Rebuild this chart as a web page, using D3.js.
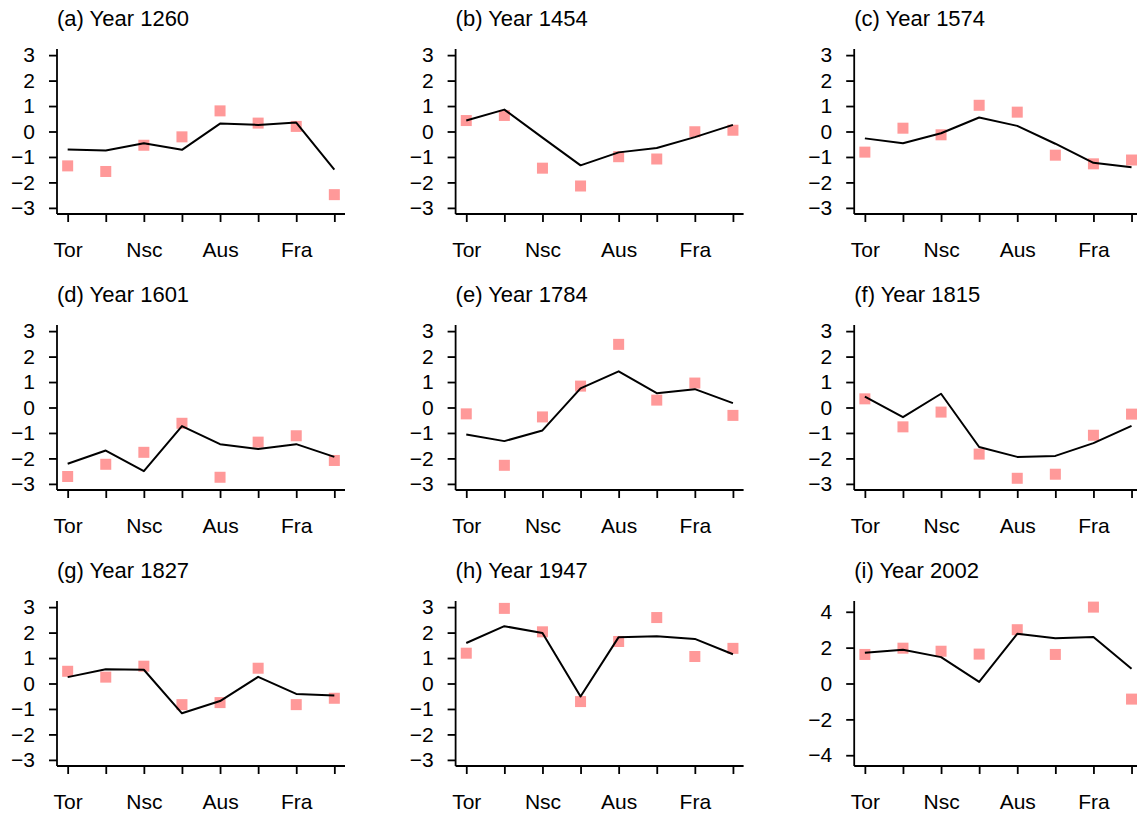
<!DOCTYPE html>
<html>
<head>
<meta charset="utf-8">
<script src="https://cdn.jsdelivr.net/npm/d3@7"></script>
<style>
    body { margin: 0; background: white; }
    svg { font-family: "Liberation Sans", Arial, sans-serif; }
</style>
</head>
<body>
<div id="chart"></div>
<script>

// Categories (only every other one gets a label on the axis)
const tickLabels = ["Tor", "", "Nsc", "", "Aus", "", "Fra", ""];

const titles = ["(a) Year 1260", "(b) Year 1454", "(c) Year 1574",
    "(d) Year 1601", "(e) Year 1784", "(f) Year 1815",
    "(g) Year 1827", "(h) Year 1947", "(i) Year 2002"];

// Black line, one array per panel
const lineA = [-0.71, -0.75, -0.46, -0.72, 0.31, 0.26, 0.35, -1.50];
const lineB = [0.43, 0.86, -0.24, -1.33, -0.82, -0.65, -0.22, 0.26];
const lineC = [-0.27, -0.46, -0.07, 0.55, 0.22, -0.48, -1.23, -1.40];
const lineD = [-2.21, -1.69, -2.50, -0.73, -1.44, -1.63, -1.44, -1.94];
const lineE = [-1.06, -1.32, -0.90, 0.75, 1.42, 0.56, 0.72, 0.17];
const lineF = [0.43, -0.38, 0.54, -1.55, -1.94, -1.90, -1.40, -0.72];
const lineG = [0.25, 0.56, 0.54, -1.17, -0.69, 0.26, -0.41, -0.47];
const lineH = [1.59, 2.25, 1.98, -0.51, 1.82, 1.86, 1.75, 1.15];
const lineI = [1.71, 1.88, 1.47, 0.09, 2.77, 2.53, 2.59, 0.82];

// Pink squares, one array per panel
const pointsA = [-1.35, -1.57, -0.54, -0.21, 0.81, 0.33, 0.20, -2.48];
const pointsB = [0.43, 0.63, -1.44, -2.14, -0.99, -1.08, -0.01, 0.05];
const pointsC = [-0.81, 0.13, -0.13, 1.03, 0.76, -0.93, -1.27, -1.12];
const pointsD = [-2.71, -2.23, -1.76, -0.62, -2.74, -1.36, -1.11, -2.08];
const pointsE = [-0.25, -2.27, -0.37, 0.84, 2.48, 0.29, 0.96, -0.31];
const pointsF = [0.34, -0.76, -0.18, -1.83, -2.78, -2.62, -1.09, -0.26];
const pointsG = [0.48, 0.25, 0.68, -0.83, -0.75, 0.60, -0.83, -0.58];
const pointsH = [1.19, 2.95, 2.03, -0.71, 1.65, 2.59, 1.06, 1.38];
const pointsI = [1.62, 1.97, 1.80, 1.64, 3.00, 1.62, 4.26, -0.87];

// y tick values
const ticksSmall = [-3, -2, -1, 0, 1, 2, 3];
const ticksLarge = [-4, -2, 0, 2, 4];

const lines = [lineA, lineB, lineC, lineD, lineE, lineF, lineG, lineH, lineI];
const points = [pointsA, pointsB, pointsC, pointsD, pointsE, pointsF, pointsG, pointsH, pointsI];
const yTicks = [ticksSmall, ticksSmall, ticksSmall, ticksSmall, ticksSmall,
    ticksSmall, ticksSmall, ticksSmall, ticksLarge];

// Layout
const totalWidth = 1137, totalHeight = 813;
const panelW = 288, panelH = 165;
const left0 = 57, top0 = 49, stepX = 398.6, stepY = 276;
const fontSize = 21;

const svg = d3.select("#chart")
    .append("svg")
    .attr("width", totalWidth)
    .attr("height", totalHeight);

for (let k = 0; k < 9; k++) {
    const col = k % 3, row = Math.floor(k / 3);
    const g = svg.append("g")
        .attr("transform", `translate(${left0 + col * stepX},${top0 + row * stepY})`);

    // Scales with R-like 4% padding
    const x = d3.scaleLinear()
        .domain([1 - 0.28, 8 + 0.28])
        .range([0, panelW]);

    const lim = Math.max(3, d3.max(points[k].concat(lines[k]), v => Math.abs(v)));
    const y = d3.scaleLinear()
        .domain([-lim * 1.08, lim * 1.08])
        .range([panelH, 0]);

    // Axes
    const xAxis = g.append("g")
        .attr("transform", `translate(0,${panelH})`)
        .call(d3.axisBottom(x)
            .tickValues(d3.range(1, 9))
            .tickFormat((d, i) => tickLabels[i])
            .tickSize(8)
            .tickPadding(20)
            .tickSizeOuter(0));

    const yAxis = g.append("g")
        .call(d3.axisLeft(y)
            .tickValues(yTicks[k])
            .tickFormat(d3.format("d"))
            .tickSize(8)
            .tickPadding(14)
            .tickSizeOuter(0));

    [xAxis, yAxis].forEach(a => {
        a.select(".domain").attr("stroke", "black").attr("stroke-width", 1.8);
        a.selectAll(".tick line").attr("stroke", "black").attr("stroke-width", 1.8);
        a.selectAll(".tick text")
            .attr("fill", "black")
            .style("font-size", fontSize + "px")
            .style("font-family", "Liberation Sans, Arial, sans-serif");
    });
    // Full length axis lines (box type "l")
    xAxis.select(".domain").attr("d", `M0,0H${panelW}`);
    yAxis.select(".domain").attr("d", `M0,0V${panelH}`);

    // Squares
    const sq = 11;
    g.append("g")
        .selectAll("rect")
        .data(points[k])
        .join("rect")
        .attr("x", (d, i) => x(i + 1) - sq / 2)
        .attr("y", d => y(d) - sq / 2)
        .attr("width", sq)
        .attr("height", sq)
        .attr("fill", "#ff9999");

    // Line
    g.append("path")
        .datum(lines[k])
        .attr("fill", "none")
        .attr("stroke", "black")
        .attr("stroke-width", 2)
        .attr("stroke-linejoin", "round")
        .attr("d", d3.line()
            .x((d, i) => x(i + 1))
            .y(d => y(d)));

    // Title
    g.append("text")
        .attr("x", 0)
        .attr("y", -23)
        .text(titles[k])
        .style("font-size", "22px")
        .attr("fill", "black");
}

</script>
</body>
</html>
